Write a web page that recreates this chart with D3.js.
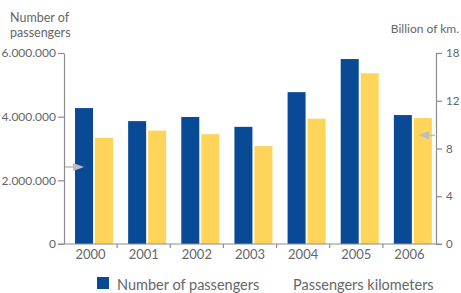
<!DOCTYPE html>
<html>
<head>
<meta charset="utf-8">
<script src="https://cdn.jsdelivr.net/npm/d3@7"></script>
<style>
  body { margin: 0; background: #fff; }
  text { font-family: Lato, "Open Sans", sans-serif; fill: #666; }
</style>
</head>
<body>
<script>
// chart data
var years = ["2000", "2001", "2002", "2003", "2004", "2005", "2006"];
var passengers = [4270000, 3860000, 3990000, 3680000, 4770000, 5810000, 4050000];
var kilometers = [8.9, 9.5, 9.2, 8.2, 10.5, 14.3, 10.55];
var leftTicks = [0, 2000000, 4000000, 6000000];
var leftTickLabels = ["0", "2.000.000", "4.000.000", "6.000.000"];
var rightTicks = [0, 4, 8, 12, 16];
var rightTickLabels = ["0", "4", "8", "12", "18"];
var leftMarker = 2420000;
var rightMarker = 9.1;

var width = 461, height = 293;
var blue = "#084a96", yellow = "#fed45a", axisColor = "#8c8c8c", arrowColor = "#bdbdbd";

var svg = d3.select("body").append("svg")
  .attr("width", width)
  .attr("height", height);

var x = d3.scaleBand().domain(years).range([64, 436]);
var yLeft = d3.scaleLinear().domain([0, 6000000]).range([244, 53]);
var yRight = d3.scaleLinear().domain([0, 16]).range([244, 53]);

// bars
var g = svg.append("g");
g.selectAll(".pass")
  .data(passengers)
  .enter().append("rect")
  .attr("x", function(d, i) { return x(years[i]) + 11; })
  .attr("y", function(d) { return yLeft(d); })
  .attr("width", 18)
  .attr("height", function(d) { return 244 - yLeft(d); })
  .attr("fill", blue);

g.selectAll(".km")
  .data(kilometers)
  .enter().append("rect")
  .attr("x", function(d, i) { return x(years[i]) + 31; })
  .attr("y", function(d) { return yRight(d); })
  .attr("width", 18)
  .attr("height", function(d) { return 244 - yRight(d); })
  .attr("fill", yellow);

// left axis
var leftAxis = d3.axisLeft(yLeft)
  .tickValues(leftTicks)
  .tickFormat(function(d, i) { return leftTickLabels[i]; })
  .tickSize(6).tickSizeOuter(0).tickPadding(2);
var la = svg.append("g").attr("transform", "translate(64,0)").call(leftAxis);

// right axis
var rightAxis = d3.axisRight(yRight)
  .tickValues(rightTicks)
  .tickFormat(function(d, i) { return rightTickLabels[i]; })
  .tickSize(6).tickSizeOuter(0).tickPadding(4);
var ra = svg.append("g").attr("transform", "translate(436,0)").call(rightAxis);

// bottom axis
var bottomAxis = d3.axisBottom(x).tickSize(0).tickPadding(6);
var ba = svg.append("g").attr("transform", "translate(0,244)").call(bottomAxis);
ba.selectAll(".bdry")
  .data(years.slice(1))
  .enter().append("line")
  .attr("x1", function(d) { return x(d); })
  .attr("x2", function(d) { return x(d); })
  .attr("y1", 0).attr("y2", 4)
  .attr("stroke", axisColor);
ba.select(".domain").attr("d", "M58,0H442");

[la, ra, ba].forEach(function(a) {
  a.selectAll("path, line").attr("stroke", axisColor).attr("stroke-width", 1.2);
  a.selectAll("text").style("font-size", "12px").attr("fill", "#666");
});
ba.selectAll("text").style("font-size", "13px");
ra.selectAll("text").style("font-size", "11.5px");

// markers
function arrow(xFrom, xTip, y) {
  var dir = xTip > xFrom ? 1 : -1;
  svg.append("line")
    .attr("x1", xFrom).attr("x2", xTip - dir * 9)
    .attr("y1", y).attr("y2", y)
    .attr("stroke", arrowColor).attr("stroke-width", 1.5);
  svg.append("path")
    .attr("d", "M" + xTip + "," + y + "L" + (xTip - dir * 11) + "," + (y - 4) + "L" + (xTip - dir * 11) + "," + (y + 4) + "Z")
    .attr("fill", arrowColor);
}
arrow(65, 84, yLeft(leftMarker));
arrow(435, 418, yRight(rightMarker));

// axis titles
svg.append("text").attr("x", 10).attr("y", 22).style("font-size", "12.5px").text("Number of");
svg.append("text").attr("x", 10).attr("y", 37).style("font-size", "12.5px").text("passengers");
svg.append("text").attr("x", 459).attr("y", 33).attr("text-anchor", "end").style("font-size", "12px").text("Billion of km.");

// legend
svg.append("rect").attr("x", 97).attr("y", 277).attr("width", 12).attr("height", 12).attr("fill", blue);
svg.append("text").attr("x", 117).attr("y", 290).style("font-size", "14.5px").text("Number of passengers");
svg.append("text").attr("x", 293).attr("y", 290).style("font-size", "14.5px").text("Passengers kilometers");
</script>
</body>
</html>
